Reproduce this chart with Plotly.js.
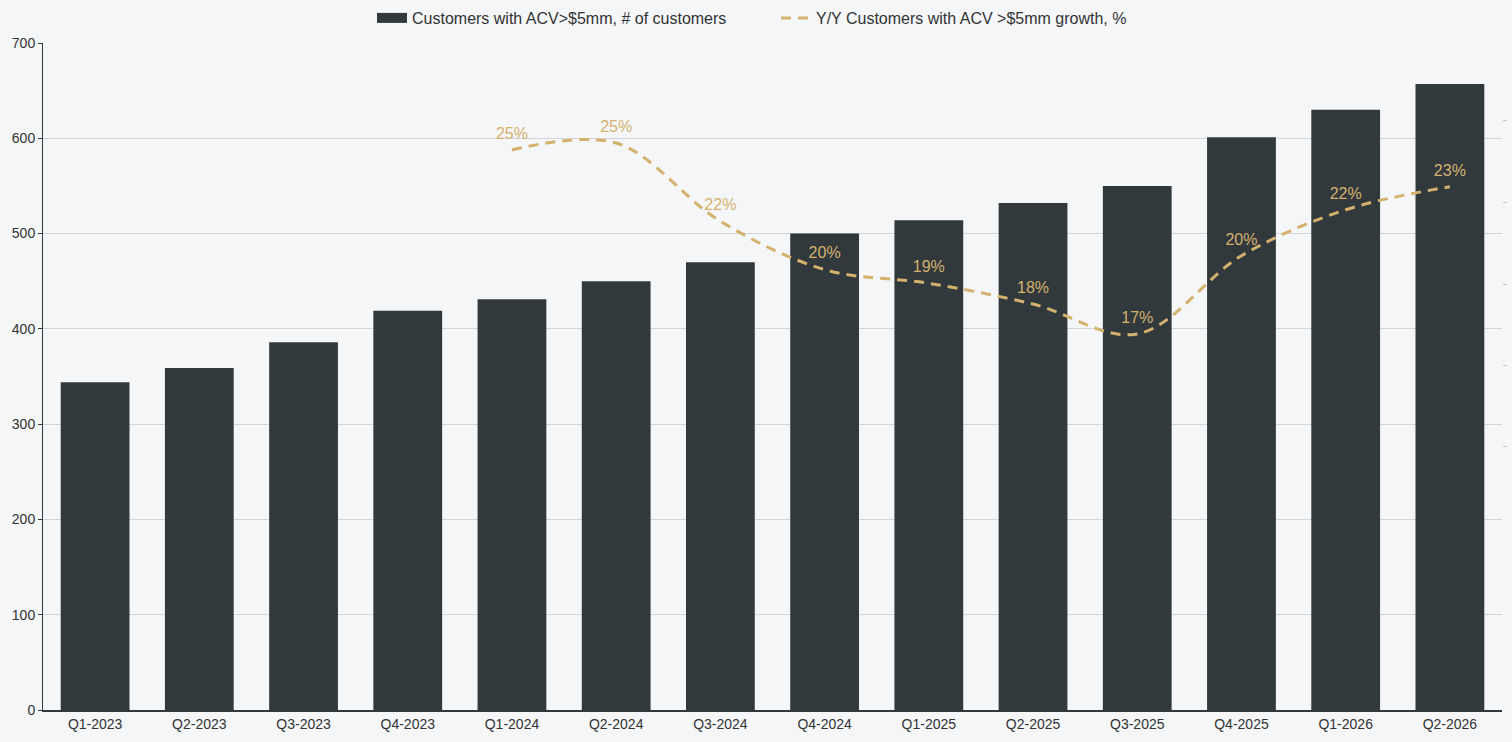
<!DOCTYPE html>
<html>
<head>
<meta charset="utf-8">
<script src="https://cdn.plot.ly/plotly-3.0.1.min.js"></script>
<style>
html,body{margin:0;padding:0;background:#F4F6F8;}
#chart{width:1512px;height:742px;}
</style>
</head>
<body>
<div id="chart"></div>
<script>
const quarters = ["Q1-2023","Q2-2023","Q3-2023","Q4-2023","Q1-2024","Q2-2024","Q3-2024","Q4-2024","Q1-2025","Q2-2025","Q3-2025","Q4-2025","Q1-2026","Q2-2026"];
const customers = [344, 359, 386, 419, 431, 450, 470, 500, 514, 532, 550, 601, 630, 657];
const growthQuarters = ["Q1-2024","Q2-2024","Q3-2024","Q4-2024","Q1-2025","Q2-2025","Q3-2025","Q4-2025","Q1-2026","Q2-2026"];
const growth = [25.0, 25.3, 21.9, 19.8, 19.2, 18.3, 17.0, 20.4, 22.4, 23.4];
const growthLabels = ["25%","25%","22%","20%","19%","18%","17%","20%","22%","23%"];
const leftTicks = [0,100,200,300,400,500,600,700];

const FONT = "Liberation Sans, Arial, Helvetica, sans-serif";
const GOLD = "#D4B26E";
const BAR = "#32393D";
const barName = "Customers with ACV>$5mm, # of customers";
const lineName = "Y/Y Customers with ACV >$5mm growth, %";

const traces = [
  {
    type: "bar",
    name: barName,
    x: quarters,
    y: customers,
    marker: {color: BAR, line: {width: 0}},
    showlegend: false,
    hoverinfo: "skip"
  },
  {
    // legend swatch only for the bar series (wide rectangle look); draws nothing
    type: "scatter",
    mode: "lines",
    name: barName,
    x: [quarters[0]],
    y: [null],
    line: {color: BAR, width: 10},
    showlegend: true,
    hoverinfo: "skip"
  },
  {
    type: "scatter",
    mode: "lines+markers+text",
    name: lineName,
    x: growthQuarters,
    y: growth,
    yaxis: "y2",
    text: growthLabels,
    textposition: "top center",
    textfont: {family: FONT, size: 16, color: GOLD},
    marker: {size: 10, color: "rgba(0,0,0,0)", line: {width: 0}},
    line: {color: GOLD, width: 3, dash: "10px,7px", shape: "spline", smoothing: 1},
    hoverinfo: "skip",
    cliponaxis: false
  }
];

const layout = {
  width: 1512,
  height: 742,
  paper_bgcolor: "#F4F6F8",
  plot_bgcolor: "#F4F6F8",
  margin: {l: 43, r: 10, t: 43, b: 32, pad: 0, autoexpand: false},
  font: {family: FONT, size: 14, color: "#333333"},
  bargap: 0.34,
  showlegend: true,
  legend: {
    orientation: "h",
    xref: "container",
    yref: "container",
    x: 372/1512, xanchor: "left",
    y: 1 - 18/742, yanchor: "middle",
    font: {family: FONT, size: 16, color: "#333333"},
    bgcolor: "rgba(0,0,0,0)",
    traceorder: "normal",
    itemwidth: 30,
    entrywidth: 359,
    entrywidthmode: "pixels"
  },
  xaxis: {
    type: "category",
    categoryorder: "array",
    categoryarray: quarters,
    range: [-0.5, quarters.length - 0.5],
    showgrid: false,
    showline: true,
    linecolor: BAR,
    linewidth: 2,
    ticks: "",
    tickfont: {family: FONT, size: 14, color: "#333333"},
    fixedrange: true
  },
  yaxis: {
    range: [0, 700],
    tickvals: leftTicks,
    showgrid: true,
    gridcolor: "#D2D5D8",
    gridwidth: 1,
    zeroline: false,
    showline: true,
    linecolor: BAR,
    linewidth: 1,
    ticks: "outside",
    ticklen: 4,
    tickcolor: BAR,
    tickfont: {family: FONT, size: 14, color: "#333333"},
    fixedrange: true
  },
  yaxis2: {
    overlaying: "y",
    side: "right",
    range: [0.65, 29.65],
    tickvals: [12.09, 15.65, 19.17, 22.71, 26.27],
    showticklabels: false,
    ticks: "outside",
    ticklen: 4,
    tickcolor: "#C8CBCE",
    showgrid: false,
    zeroline: false,
    showline: false,
    fixedrange: true
  }
};

Plotly.newPlot("chart", traces, layout, {displayModeBar: false, staticPlot: true});
</script>
</body>
</html>
